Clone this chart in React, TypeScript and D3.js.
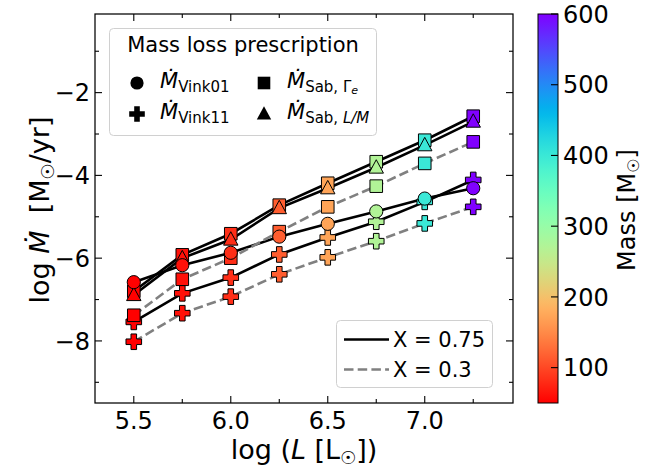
import React, { useEffect, useRef } from 'react';
import * as d3 from 'd3';

// luminosities (log L) and the stellar mass at each one
const logL = [5.5, 5.75, 6.0, 6.25, 6.5, 6.75, 7.0, 7.25];
const masses = [50, 62, 82, 115, 172, 272, 400, 600];

// log Mdot for each prescription
const vink01 = [-6.58, -6.17, -5.87, -5.48, -5.17, -4.87, -4.56, -4.31];
const vink11X075 = [-7.54, -6.85, -6.47, -5.91, -5.5, -5.12, -4.64, -4.11];
const vink11X03 = [-8.02, -7.33, -6.93, -6.39, -5.98, -5.59, -5.16, -4.76];
const sabGeX075 = [-6.8, -5.92, -5.41, -4.72, -4.19, -3.67, -3.15, -2.57];
const sabGeX03 = [-7.38, -6.51, -6.0, -5.36, -4.76, -4.26, -3.71, -3.19];
const sabLM = [-6.89, -6.0, -5.55, -4.79, -4.31, -3.81, -3.27, -2.7];

const xTicks = [5.5, 6.0, 6.5, 7.0];
const yTicks = [-2, -4, -6, -8];
const cbTicks = [100, 200, 300, 400, 500, 600];

const FONT = 'DejaVu Sans';

// matplotlib "rainbow" colormap
const rainbow = (t: number) => {
  const r = Math.min(1, Math.abs(2 * t - 0.5));
  const g = Math.sin(Math.PI * t);
  const b = Math.cos((Math.PI * t) / 2);
  return d3.rgb(r * 255, Math.max(0, g) * 255, Math.max(0, b) * 255).formatHex();
};
const massColor = (m: number) => rainbow(1 - (m - 50) / 550);

const markerPath = (kind: string) => {
  if (kind === 'circle') return d3.symbol(d3.symbolCircle, Math.PI * 6.6 * 6.6)();
  if (kind === 'square') return 'M-6.3,-6.3H6.3V6.3H-6.3Z';
  if (kind === 'triangle') return 'M0,-7.8L7.2,5.6H-7.2Z';
  // filled plus
  const a = 7.8, b = 2.8;
  return `M${-b},${-a}H${b}V${-b}H${a}V${b}H${b}V${a}H${-b}V${b}H${-a}V${-b}H${-b}Z`;
};

const App = () => {
  const ref = useRef<SVGSVGElement | null>(null);

  useEffect(() => {
    const svg = d3.select(ref.current);
    svg.selectAll('*').remove();

    const left = 95, right = 513, top = 14, bottom = 403;
    const x = d3.scaleLinear().domain([5.3, 7.455]).range([left, right]);
    const y = d3.scaleLinear().domain([-9.5, -0.1]).range([bottom, top]);

    const g = svg.append('g');

    // lines
    const series = [
      { vals: vink01, dash: false },
      { vals: vink11X075, dash: false },
      { vals: vink11X03, dash: true },
      { vals: sabGeX075, dash: false },
      { vals: sabGeX03, dash: true },
      { vals: sabLM, dash: false },
    ];
    const line = d3
      .line<number>()
      .x((d, i) => x(logL[i]))
      .y((d) => y(d));
    series.forEach((s) => {
      g.append('path')
        .attr('d', line(s.vals))
        .attr('fill', 'none')
        .attr('stroke', s.dash ? '#808080' : 'black')
        .attr('stroke-width', 2.6)
        .attr('stroke-dasharray', s.dash ? '9.5,4.2' : null);
    });

    // markers
    const markerSets = [
      { vals: vink11X075, kind: 'plus' },
      { vals: vink11X03, kind: 'plus' },
      { vals: sabGeX075, kind: 'square' },
      { vals: sabGeX03, kind: 'square' },
      { vals: sabLM, kind: 'triangle' },
      { vals: vink01, kind: 'circle' },
    ];
    markerSets.forEach((s) => {
      g.selectAll(null)
        .data(s.vals)
        .enter()
        .append('path')
        .attr('d', markerPath(s.kind))
        .attr('transform', (d, i) => `translate(${x(logL[i])},${y(d)})`)
        .attr('fill', (d, i) => massColor(masses[i]))
        .attr('stroke', 'black')
        .attr('stroke-width', 1);
    });

    // frame
    svg.append('rect')
      .attr('x', left).attr('y', top)
      .attr('width', right - left).attr('height', bottom - top)
      .attr('fill', 'none').attr('stroke', 'black').attr('stroke-width', 1.25);

    // ticks (inward on all four sides)
    const xMinor = d3.range(5.5, 7.3, 0.25).filter((v) => !xTicks.some((t) => Math.abs(t - v) < 1e-6));
    const yMinor = [-1, -3, -5, -7, -9];
    const ticks = svg.append('g').attr('stroke', 'black').attr('stroke-width', 1.1);
    xTicks.forEach((v) => {
      ticks.append('line').attr('x1', x(v)).attr('x2', x(v)).attr('y1', bottom).attr('y2', bottom - 7);
      ticks.append('line').attr('x1', x(v)).attr('x2', x(v)).attr('y1', top).attr('y2', top + 7);
    });
    xMinor.forEach((v) => {
      ticks.append('line').attr('x1', x(v)).attr('x2', x(v)).attr('y1', bottom).attr('y2', bottom - 4);
      ticks.append('line').attr('x1', x(v)).attr('x2', x(v)).attr('y1', top).attr('y2', top + 4);
    });
    yTicks.forEach((v) => {
      ticks.append('line').attr('x1', left).attr('x2', left + 7).attr('y1', y(v)).attr('y2', y(v));
      ticks.append('line').attr('x1', right).attr('x2', right - 7).attr('y1', y(v)).attr('y2', y(v));
    });
    yMinor.forEach((v) => {
      ticks.append('line').attr('x1', left).attr('x2', left + 4).attr('y1', y(v)).attr('y2', y(v));
      ticks.append('line').attr('x1', right).attr('x2', right - 4).attr('y1', y(v)).attr('y2', y(v));
    });

    const labels = svg.append('g').attr('font-family', FONT).attr('fill', 'black');
    xTicks.forEach((v) => {
      labels.append('text')
        .attr('x', x(v)).attr('y', 429)
        .attr('text-anchor', 'middle').attr('font-size', 24)
        .text(v.toFixed(1));
    });
    yTicks.forEach((v) => {
      labels.append('text')
        .attr('x', 90).attr('y', y(v) + 8.7)
        .attr('text-anchor', 'end').attr('font-size', 24)
        .text('\u2212' + Math.abs(v));
    });

    // x label
    const xl = labels.append('text')
      .attr('x', 304).attr('y', 459)
      .attr('text-anchor', 'middle').attr('font-size', 27);
    xl.append('tspan').text('log (');
    xl.append('tspan').attr('font-style', 'italic').text('L');
    xl.append('tspan').text('\u00a0[L');
    xl.append('tspan').attr('font-size', 18).attr('dy', 5).text('\u2609');
    xl.append('tspan').attr('dy', -5).text('])');

    // y label
    const yl = labels.append('text')
      .attr('transform', 'translate(49,210) rotate(-90)')
      .attr('text-anchor', 'middle').attr('font-size', 27);
    yl.append('tspan').text('log\u00a0');
    yl.append('tspan').attr('font-style', 'italic').text('\u1E40');
    yl.append('tspan').text('\u00a0\u00a0[M');
    yl.append('tspan').attr('font-size', 18).attr('dy', 5).text('\u2609');
    yl.append('tspan').attr('dy', -5).text('/yr]');

    // colorbar
    const cbX = 538, cbW = 20;
    const c = d3.scaleLinear().domain([50, 600]).range([bottom, top]);
    const defs = svg.append('defs');
    const grad = defs.append('linearGradient').attr('id', 'cb')
      .attr('x1', 0).attr('y1', 1).attr('x2', 0).attr('y2', 0);
    d3.range(0, 1.0001, 0.02).forEach((t) => {
      grad.append('stop').attr('offset', t).attr('stop-color', massColor(50 + t * 550));
    });
    svg.append('rect')
      .attr('x', cbX).attr('y', top).attr('width', cbW).attr('height', bottom - top)
      .attr('fill', 'url(#cb)').attr('stroke', 'black').attr('stroke-width', 1);
    cbTicks.forEach((v) => {
      svg.append('line')
        .attr('x1', cbX + cbW).attr('x2', cbX + cbW - 7)
        .attr('y1', c(v)).attr('y2', c(v))
        .attr('stroke', 'black').attr('stroke-width', 1.1);
      labels.append('text')
        .attr('x', 563).attr('y', c(v) + 8.7).attr('font-size', 24)
        .text(v);
    });
    const cl = labels.append('text')
      .attr('transform', 'translate(635,210) rotate(-90)')
      .attr('text-anchor', 'middle').attr('font-size', 24);
    cl.append('tspan').text('Mass [M');
    cl.append('tspan').attr('font-size', 16).attr('dy', 4).text('\u2609');
    cl.append('tspan').attr('dy', -4).text(']');

    // legend: mass loss prescription
    const lg = svg.append('g').attr('font-family', FONT);
    lg.append('rect')
      .attr('x', 109.5).attr('y', 28.5).attr('width', 267).attr('height', 107).attr('rx', 4)
      .attr('fill', 'white').attr('fill-opacity', 0.8)
      .attr('stroke', '#d0d0d0').attr('stroke-width', 1);
    lg.append('text').attr('x', 243).attr('y', 52).attr('text-anchor', 'middle')
      .attr('font-size', 21).text('Mass loss prescription');
    const entries = [
      { kind: 'circle', mx: 137, my: 83, sub: [{ t: 'Vink01' }] },
      { kind: 'square', mx: 264, my: 83, sub: [{ t: 'Sab,\u00a0\u0393' }, { t: 'e', it: true, small: true }] },
      { kind: 'plus', mx: 137, my: 114, sub: [{ t: 'Vink11' }] },
      { kind: 'triangle', mx: 264, my: 114, sub: [{ t: 'Sab,\u00a0' }, { t: 'L/M', it: true }] },
    ];
    entries.forEach((e) => {
      lg.append('path').attr('d', markerPath(e.kind))
        .attr('transform', `translate(${e.mx},${e.my})`).attr('fill', 'black');
      const t = lg.append('text').attr('x', e.mx + 23).attr('y', e.my + 5).attr('font-size', 21);
      t.append('tspan').attr('font-style', 'italic').text('\u1E40');
      t.append('tspan').attr('font-size', 15).attr('dy', 4).text(e.sub[0].t);
      if (e.sub[1]) {
        const s = e.sub[1];
        t.append('tspan').attr('font-size', s.small ? 11 : 15).attr('font-style', 'italic')
          .attr('dy', s.small ? 2 : 0).text(s.t);
      }
    });

    // legend: X
    lg.append('rect')
      .attr('x', 336.5).attr('y', 320.5).attr('width', 156).attr('height', 67).attr('rx', 4)
      .attr('fill', 'white').attr('fill-opacity', 0.8)
      .attr('stroke', '#d0d0d0').attr('stroke-width', 1);
    lg.append('line').attr('x1', 344).attr('x2', 389).attr('y1', 339.5).attr('y2', 339.5)
      .attr('stroke', 'black').attr('stroke-width', 2.6);
    lg.append('line').attr('x1', 344).attr('x2', 389).attr('y1', 369.5).attr('y2', 369.5)
      .attr('stroke', '#808080').attr('stroke-width', 2.6).attr('stroke-dasharray', '9.5,4.2');
    lg.append('text').attr('x', 393).attr('y', 347).attr('font-size', 21).text('X = 0.75');
    lg.append('text').attr('x', 393).attr('y', 377).attr('font-size', 21).text('X = 0.3');

    return () => {
      svg.selectAll('*').remove();
    };
  }, []);

  return <svg ref={ref} width={662} height={468} style={{ display: 'block', position: 'absolute', left: 0, top: 0 }} />;
};

export default App;
